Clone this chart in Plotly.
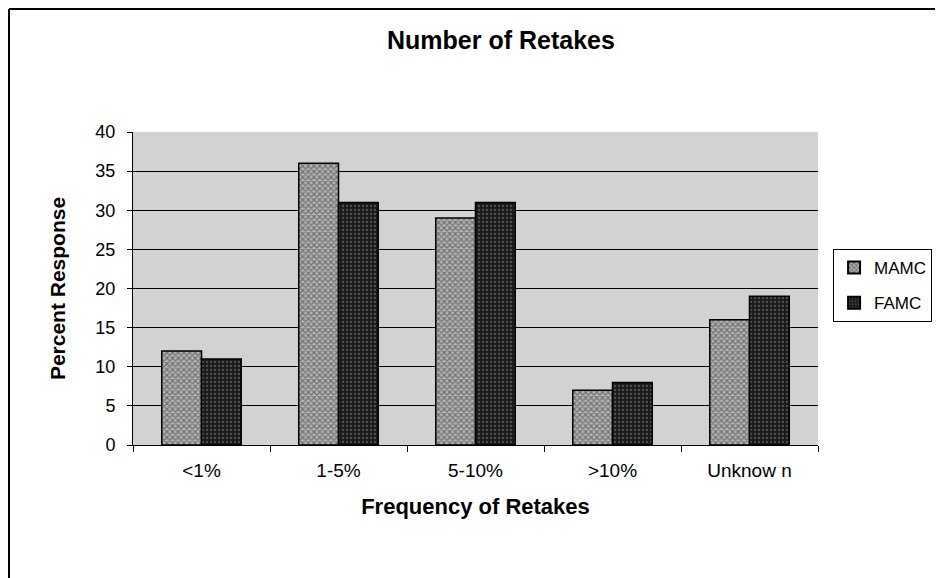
import plotly.graph_objects as go

categories = ["<1%", "1-5%", "5-10%", ">10%", "Unknow n"]
mamc = [12, 36, 29, 7, 16]
famc = [11, 31, 31, 8, 19]
y_ticks = [0, 5, 10, 15, 20, 25, 30, 35, 40]

FONT = "Arial, Liberation Sans, sans-serif"

fig = go.Figure()
fig.add_trace(go.Bar(
    name="MAMC", x=categories, y=mamc, legendgroup="a",
    marker=dict(color="#b4b4b4", line=dict(color="black", width=1.5),
                pattern=dict(shape="x", fgcolor="#2a2a2a", size=4, solidity=0.5)),
))
fig.add_trace(go.Bar(
    name="FAMC", x=categories, y=famc, legendgroup="b",
    marker=dict(color="#1a1a1a", line=dict(color="black", width=1.5),
                pattern=dict(shape=".", fgcolor="#8a8a8a", size=4, solidity=0.25)),
))

fig.update_layout(
    width=960, height=578,
    margin=dict(l=125, r=150, t=124, b=141),
    paper_bgcolor="white",
    plot_bgcolor="#d2d2d2",
    barmode="group",
    bargap=0.42,
    bargroupgap=0,
    font=dict(family=FONT, size=18, color="black"),
    title=dict(text="<b>Number of Retakes</b>", x=0.5135, xanchor="center",
               y=0.945, yanchor="middle", font=dict(family=FONT, size=25, color="black")),
    showlegend=True,
    legend=dict(x=1.022, y=0.626, xanchor="left", yanchor="top",
                bordercolor="black", borderwidth=1, bgcolor="white",
                font=dict(family=FONT, size=17), itemsizing="constant",
                itemwidth=30, tracegroupgap=10),
    xaxis=dict(
        showgrid=False, showline=True, linecolor="black", linewidth=1,
        ticks="outside", tickson="boundaries", ticklen=6, tickcolor="black",
        ticklabelstandoff=8, tickfont=dict(size=19),
        title=dict(text="<b>Frequency of Retakes</b>", font=dict(family=FONT, size=22), standoff=18),
        zeroline=False,
    ),
    yaxis=dict(
        range=[0, 40], tickvals=y_ticks, showgrid=True, gridcolor="black", gridwidth=1,
        showline=True, linecolor="black", linewidth=1,
        ticks="outside", ticklen=5, tickcolor="black", ticklabelstandoff=8,
        title=dict(text="<b>Percent Response</b>", font=dict(family=FONT, size=21), standoff=24),
        zeroline=False,
    ),
)

# outer chart frame (top and left edges visible)
fig.add_shape(type="line", xref="paper", yref="paper", x0=-0.181, x1=1.25, y0=1.393, y1=1.393,
              line=dict(color="black", width=2))
fig.add_shape(type="line", xref="paper", yref="paper", x0=-0.181, x1=-0.181, y0=1.393, y1=-0.5,
              line=dict(color="black", width=2))

fig.write_html("out.html")
